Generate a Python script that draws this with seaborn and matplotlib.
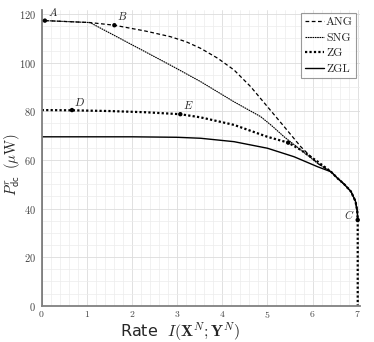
import numpy as np
import pandas as pd
import matplotlib
matplotlib.use("Agg")
import matplotlib.pyplot as plt
from matplotlib.ticker import MultipleLocator
import seaborn as sns

# shared tail of all curves (they meet near rate 6.4)
tail_x = [6.55, 6.7, 6.85, 6.95, 6.99, 7.0]
tail_y = [52.5, 50.0, 47.0, 43.0, 39.0, 35.3]

ang_x = [0.07, 1.07, 1.61, 2.3, 2.85, 3.2, 3.52, 3.9, 4.26, 4.63, 5.0, 5.37, 5.74, 6.11, 6.41] + tail_x
ang_y = [117.3, 116.5, 115.4, 113.0, 110.7, 108.6, 105.9, 101.8, 97.0, 90.1, 81.9, 73.7, 65.4, 58.6, 55.1] + tail_y

sng_x = [0.07, 1.07, 2.85, 3.52, 4.26, 4.85, 5.1, 5.37, 5.74, 6.11, 6.41] + tail_x
sng_y = [117.3, 116.5, 99.0, 92.2, 83.9, 77.8, 74.0, 69.5, 64.1, 58.6, 55.1] + tail_y

zg_x = [0.0, 0.67, 1.5, 2.3, 3.07, 3.52, 4.26, 5.0, 5.46, 5.74, 6.11, 6.41] + tail_x + [7.0]
zg_y = [80.5, 80.4, 80.1, 79.6, 78.8, 77.5, 74.4, 69.5, 67.1, 64.1, 59.3, 55.1] + tail_y + [0.0]

zgl_x = [0.0, 0.0, 1.0, 2.0, 3.0, 3.52, 4.26, 5.0, 5.59, 6.11, 6.41] + tail_x
zgl_y = [0.0, 69.5, 69.5, 69.5, 69.3, 68.9, 67.5, 64.8, 61.3, 57.2, 55.1] + tail_y

pt_names = ["A", "B", "C", "D", "E", ""]
pt_x = [0.07, 1.61, 7.0, 0.67, 3.07, 5.46]
pt_y = [117.3, 115.4, 35.3, 80.5, 78.8, 67.1]

sns.set_style("white")
plt.rcParams["mathtext.fontset"] = "cm"
plt.rcParams["font.family"] = ["cmr10", "DejaVu Serif"]
plt.rcParams["axes.formatter.use_mathtext"] = True

fig = plt.figure(figsize=(3.74, 3.42), dpi=100)
ax = fig.add_axes([0.1115, 0.106, 0.851, 0.865])

series = [
    ("ANG", ang_x, ang_y, (0, (3, 2)), 0.9),
    ("SNG", sng_x, sng_y, (0, (1.5, 0.6)), 0.8),
    ("ZG", zg_x, zg_y, (0, (1, 1)), 1.6),
    ("ZGL", zgl_x, zgl_y, "-", 1.0),
]
for name, xs, ys, ls, lw in series:
    df = pd.DataFrame({"x": xs, "y": ys})
    sns.lineplot(data=df, x="x", y="y", ax=ax, color="black", linestyle=ls,
                 linewidth=lw, sort=False, estimator=None, label=name)

sns.scatterplot(x=pt_x, y=pt_y, ax=ax, color="black", s=10, zorder=5, edgecolor="none")
offsets = {"A": (0.08, 1.0), "B": (0.05, 1.2), "C": (-0.3, -0.5), "D": (0.05, 1.0), "E": (0.05, 1.3)}
for n, px, py in zip(pt_names, pt_x, pt_y):
    if n:
        dx, dy = offsets[n]
        ax.text(px + dx, py + dy, "$" + n + "$", fontsize=8, ha="left", va="bottom")

ax.set_xlim(0, 7.05)
ax.set_ylim(0, 121.7)
ax.xaxis.set_major_locator(MultipleLocator(1))
ax.xaxis.set_minor_locator(MultipleLocator(0.2))
ax.yaxis.set_major_locator(MultipleLocator(20))
ax.yaxis.set_minor_locator(MultipleLocator(5))
ax.grid(True, which="major", color="#dcdcdc", linewidth=0.6)
ax.grid(True, which="minor", color="#ececec", linewidth=0.5)
ax.tick_params(axis="both", which="major", labelsize=7.5, length=2, color="#888888",
               labelcolor="#444444", pad=2)
ax.tick_params(axis="x", which="major", labelsize=7, pad=0.5)
ax.tick_params(axis="both", which="minor", length=0)
for s in ["top", "right"]:
    ax.spines[s].set_visible(False)
for s in ["left", "bottom"]:
    ax.spines[s].set_color("#808080")
    ax.spines[s].set_linewidth(1.3)

ax.set_xlabel(r"Rate  $I(\mathbf{X}^N;\mathbf{Y}^N)$", fontsize=11.5,
              family=["DejaVu Sans"])
ax.xaxis.set_label_coords(0.434, -0.05)
ax.set_ylabel(r"$P_{\mathsf{dc}}^{r}\;\;(\mu\mathrm{W})$", fontsize=10.5)
ax.yaxis.set_label_coords(-0.062, 0.477)

leg = ax.legend(loc="upper right", fontsize=8.5, frameon=True, fancybox=False,
                handlelength=1.6, handletextpad=0.2, borderpad=0.3, labelspacing=0.45,
                borderaxespad=0.3)
leg.get_frame().set_edgecolor("#808080")
leg.get_frame().set_linewidth(0.8)

fig.savefig("out.png", dpi=100)
